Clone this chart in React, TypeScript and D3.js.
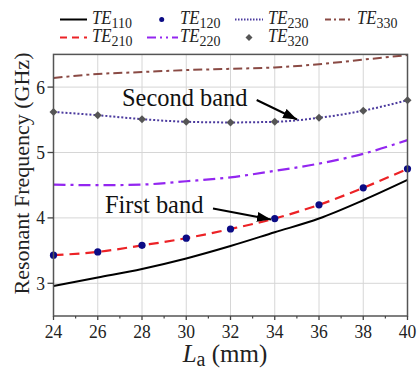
import React from "react";
import * as d3 from "d3";

const La = [24, 26, 28, 30, 32, 34, 36, 38, 40];
const TE110 = [2.96, 3.09, 3.22, 3.38, 3.57, 3.78, 3.99, 4.27, 4.58];
const TE120 = [3.43, 3.48, 3.58, 3.69, 3.83, 3.99, 4.2, 4.46, 4.75];
const TE210 = [3.43, 3.48, 3.58, 3.69, 3.83, 3.99, 4.2, 4.46, 4.75];
const TE220 = [4.51, 4.5, 4.51, 4.56, 4.62, 4.72, 4.83, 4.98, 5.19];
const TE230 = [5.62, 5.57, 5.51, 5.47, 5.46, 5.47, 5.53, 5.64, 5.8];
const TE320 = [5.62, 5.57, 5.51, 5.47, 5.46, 5.47, 5.53, 5.64, 5.8];
const TE330 = [6.14, 6.2, 6.23, 6.26, 6.28, 6.3, 6.35, 6.42, 6.49];
const xTicks = [24, 26, 28, 30, 32, 34, 36, 38, 40];
const yTicks = [3, 4, 5, 6];

const FONT = "'Liberation Serif', 'Times New Roman', serif";

export default function App() {
  const left = 53.5, right = 407.5, top = 54.4, bottom = 316;
  const x = d3.scaleLinear().domain([24, 40]).range([left, right]);
  const y = d3.scaleLinear().domain([2.5, 6.5]).range([bottom, top]);
  const line = (vals: number[]) =>
    d3.line<number>().x((_, i) => x(La[i])).y((v) => y(v)).curve(d3.curveMonotoneX)(vals) || "";

  const minorX = d3.range(25, 40, 2);
  const sx = 0.9;

  const diamond = (cx: number, cy: number, s: number) =>
    `M${cx},${cy - s}L${cx + s},${cy}L${cx},${cy + s}L${cx - s},${cy}Z`;

  const legendItem = (tx: number, ty: number, sub: string) => (
    <text x={0} y={0} transform={`translate(${tx},${ty}) scale(0.93,1)`} fontFamily={FONT} fontSize={18} fill="#222">
      <tspan fontStyle="italic">TE</tspan>
      <tspan fontSize={15} dy={3.5}>{sub}</tspan>
    </text>
  );

  return (
    <svg width={419} height={370} style={{ position: "absolute", left: 0, top: 0, background: "#fff" }}>
      <defs>
        <marker id="ah" viewBox="0 0 14 10" refX={14} refY={5} markerWidth={14} markerHeight={10} markerUnits="userSpaceOnUse" orient="auto">
          <path d="M0,0L14,5L0,10Z" fill="#000" />
        </marker>
      </defs>
      {/* grid */}
      {xTicks.slice(1, -1).map((t) => (
        <line key={"gx" + t} x1={x(t)} x2={x(t)} y1={top} y2={bottom} stroke="#d6d6d6" strokeWidth={1} />
      ))}
      {yTicks.map((t) => (
        <line key={"gy" + t} x1={left} x2={right} y1={y(t)} y2={y(t)} stroke="#d6d6d6" strokeWidth={1} />
      ))}
      {/* series */}
      <path d={line(TE330)} fill="none" stroke="#8a4a44" strokeWidth={2} strokeDasharray="9,4,3,4" />
      <path d={line(TE230)} fill="none" stroke="#4b3a9e" strokeWidth={2} strokeDasharray="2,2" />
      <path d={line(TE220)} fill="none" stroke="#9326f0" strokeWidth={2.2} strokeDasharray="12,5,3,5" />
      <path d={line(TE210)} fill="none" stroke="#ec2226" strokeWidth={2.2} strokeDasharray="10,6" />
      <path d={line(TE110)} fill="none" stroke="#000" strokeWidth={2} />
      {TE120.map((v, i) => (
        <circle key={"c" + i} cx={x(La[i])} cy={y(v)} r={3.6} fill="#0b0b85" />
      ))}
      {TE320.map((v, i) => (
        <path key={"d" + i} d={diamond(x(La[i]), y(v), 4)} fill="#555" />
      ))}
      {/* frame */}
      <rect x={left} y={top} width={right - left} height={bottom - top} fill="none" stroke="#555" strokeWidth={1.5} />
      {/* x ticks */}
      {xTicks.map((t) => (
        <g key={"xt" + t}>
          <line x1={x(t)} x2={x(t)} y1={bottom} y2={bottom + 4} stroke="#444" strokeWidth={1.3} />
          <text transform={`translate(${x(t)},${338}) scale(${sx},1)`} textAnchor="middle" fontFamily={FONT} fontSize={19.5} fill="#222">
            {t}
          </text>
        </g>
      ))}
      {minorX.map((t) => (
        <line key={"mx" + t} x1={x(t)} x2={x(t)} y1={bottom} y2={bottom + 2.5} stroke="#444" strokeWidth={1.2} />
      ))}
      {/* y ticks */}
      {yTicks.map((t) => (
        <g key={"yt" + t}>
          <line x1={left - 6} x2={left} y1={y(t)} y2={y(t)} stroke="#444" strokeWidth={1.3} />
          <text transform={`translate(${45},${y(t) + 6.5}) scale(${sx},1)`} textAnchor="end" fontFamily={FONT} fontSize={19.5} fill="#222">
            {t}
          </text>
        </g>
      ))}
      {/* axis titles */}
      <text transform={`translate(29,${173.5}) rotate(-90)`} textAnchor="middle" fontFamily={FONT} fontSize={22} fill="#222">
        Resonant Frequency (GHz)
      </text>
      <text transform={`translate(225,362)`} textAnchor="middle" fontFamily={FONT} fontSize={25} fill="#222">
        <tspan fontStyle="italic">L</tspan>
        <tspan fontSize={20} dy={4}>a</tspan>
        <tspan dy={-4}> (mm)</tspan>
      </text>
      {/* annotations */}
      <text transform={`translate(122,105.5) scale(0.94,1)`} fontFamily={FONT} fontSize={26} fill="#111">
        Second band
      </text>
      <line x1={256.7} y1={100} x2={297} y2={119.5} stroke="#000" strokeWidth={2} markerEnd="url(#ah)" />
      <text transform={`translate(105,213) scale(0.94,1)`} fontFamily={FONT} fontSize={26} fill="#111">
        First band
      </text>
      <line x1={213} y1={208.5} x2={271} y2={219.5} stroke="#000" strokeWidth={2} markerEnd="url(#ah)" />
      {/* legend */}
      <line x1={60} x2={87} y1={19.5} y2={19.5} stroke="#000" strokeWidth={2} />
      {legendItem(92, 24, "110")}
      <circle cx={161.7} cy={19.5} r={2.5} fill="#0b0b85" />
      {legendItem(180, 24, "120")}
      <line x1={235} x2={263} y1={19.5} y2={19.5} stroke="#4b3a9e" strokeWidth={1.8} strokeDasharray="1.5,1.5" />
      {legendItem(268, 24, "230")}
      <line x1={325} x2={353} y1={19.5} y2={19.5} stroke="#8a4a44" strokeWidth={2} strokeDasharray="6,3,2,3" />
      {legendItem(357, 24, "330")}
      <line x1={60} x2={87} y1={37.5} y2={37.5} stroke="#ec2226" strokeWidth={2} strokeDasharray="7,5" />
      {legendItem(92, 42, "210")}
      <line x1={147} x2={178} y1={37.5} y2={37.5} stroke="#9326f0" strokeWidth={2} strokeDasharray="9,4,2,4,2,4" />
      {legendItem(180, 42, "220")}
      <path d={diamond(249, 37.5, 3.5)} fill="#555" />
      {legendItem(268, 42, "320")}
    </svg>
  );
}
